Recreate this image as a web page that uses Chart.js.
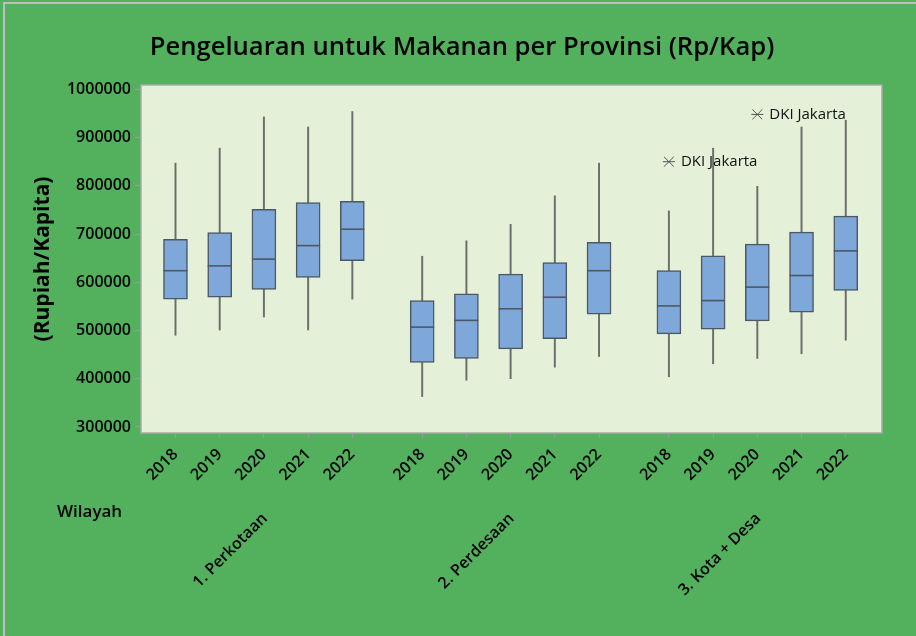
<!DOCTYPE html>
<html>
<head>
<meta charset="utf-8">
<script src="https://cdn.jsdelivr.net/npm/chart.js@4.4.0/dist/chart.umd.min.js"></script>
<style>
  html, body { margin: 0; padding: 0; background: #53b05c; }
  #wrap { width: 916px; height: 636px; }
</style>
</head>
<body>
<div id="wrap"><canvas id="chart" width="916" height="636"></canvas></div>
<script>
// categories
const groups = ['1. Perkotaan', '2. Perdesaan', '3. Kota + Desa'];
const years = ['2018', '2019', '2020', '2021', '2022'];
const chartTitle = 'Pengeluaran untuk Makanan per Provinsi (Rp/Kap)';

// box plot values per group, 2018..2022 (Rp/Kap)
const whiskerLow = [
  490000, 501000, 528000, 501000, 565000,
  363000, 397000, 400000, 424000, 446000,
  404000, 431000, 442000, 452000, 480000
];
const q1 = [
  565000, 569000, 585000, 610000, 645000,
  434000, 442000, 462000, 483000, 534000,
  493000, 503000, 520000, 538000, 583000
];
const median = [
  624000, 634000, 648000, 676000, 710000,
  507000, 521000, 545000, 569000, 624000,
  551000, 562000, 590000, 614000, 665000
];
const q3 = [
  689000, 703000, 751000, 765000, 768000,
  562000, 576000, 617000, 641000, 683000,
  624000, 655000, 679000, 704000, 737000
];
const whiskerHigh = [
  847000, 878000, 943000, 922000, 954000,
  654000, 686000, 720000, 779000, 847000,
  748000, 878000, 799000, 922000, 936000
];

// outliers
const outlierGroup = [2, 2];
const outlierYear = [0, 2];
const outlierValue = [850000, 948000];
const outlierLabel = ['DKI Jakarta', 'DKI Jakarta'];

const yTicks = [300000, 400000, 500000, 600000, 700000, 800000, 900000, 1000000];

// x position of a box: groups are separated by a little extra space
const groupStride = 5.58;
function pos(g, i) { return g * groupStride + i; }

const xPos = [];
groups.forEach((g, gi) => years.forEach((y, yi) => xPos.push(pos(gi, yi))));

const boxData = xPos.map((x, i) => ({ x: x, y: [q1[i], q3[i]] }));
const whiskerData = xPos.map((x, i) => ({ x: x, y: [whiskerLow[i], whiskerHigh[i]] }));
const outlierData = outlierValue.map((v, i) => ({ x: pos(outlierGroup[i], outlierYear[i]), y: v }));

const FONT = "'Open Sans', 'Noto Sans', sans-serif";

const boxPlotExtras = {
  id: 'boxPlotExtras',
  beforeDraw(chart) {
    const { ctx, chartArea: a } = chart;
    ctx.save();
    ctx.fillStyle = '#53b05c';
    ctx.fillRect(0, 0, chart.width, chart.height);
    ctx.strokeStyle = '#bdbdbd';
    ctx.lineWidth = 2;
    ctx.beginPath();
    ctx.moveTo(4, chart.height);
    ctx.lineTo(4, 3);
    ctx.lineTo(chart.width, 3);
    ctx.stroke();
    ctx.fillStyle = '#e5f0d8';
    ctx.fillRect(a.left, a.top, a.width, a.height);
    ctx.strokeStyle = '#a9aca6';
    ctx.lineWidth = 1.5;
    ctx.strokeRect(a.left, a.top, a.width, a.height);
    ctx.restore();
  },
  afterDatasetsDraw(chart) {
    const { ctx } = chart;
    const yScale = chart.scales.y;
    const meta = chart.getDatasetMeta(0);
    ctx.save();
    ctx.strokeStyle = '#4d5864';
    ctx.lineWidth = 1.6;
    meta.data.forEach((bar, i) => {
      const y = yScale.getPixelForValue(median[i]);
      ctx.beginPath();
      ctx.moveTo(bar.x - bar.width / 2, y);
      ctx.lineTo(bar.x + bar.width / 2, y);
      ctx.stroke();
    });
    ctx.restore();
  },
  afterDraw(chart) {
    const { ctx } = chart;
    const xScale = chart.scales.x;
    const yScale = chart.scales.y;
    ctx.save();
    // title
    ctx.fillStyle = '#000';
    ctx.font = '600 25.6px ' + FONT;
    ctx.textAlign = 'center';
    ctx.textBaseline = 'middle';
    ctx.fillText(chartTitle, 462, 48);
    // outlier labels
    ctx.fillStyle = '#111';
    ctx.font = '400 15px ' + FONT;
    ctx.textAlign = 'left';
    outlierData.forEach((p, i) => {
      ctx.fillText(outlierLabel[i], xScale.getPixelForValue(p.x) + 12, yScale.getPixelForValue(p.y));
    });
    // group labels
    ctx.fillStyle = '#000';
    ctx.font = '600 16px ' + FONT;
    ctx.textAlign = 'right';
    groups.forEach((g, gi) => {
      const cx = xScale.getPixelForValue(pos(gi, 2));
      ctx.save();
      ctx.translate(cx + 1, 516);
      ctx.rotate(-Math.PI / 4);
      ctx.fillText(g, 0, 0);
      ctx.restore();
    });
    ctx.textAlign = 'left';
    ctx.font = '600 17px ' + FONT;
    ctx.fillText('Wilayah', 57, 512);
    ctx.restore();
  }
};

new Chart(document.getElementById('chart'), {
  type: 'bar',
  data: {
    datasets: [
      {
        data: boxData,
        backgroundColor: '#7ea7da',
        borderColor: '#4d5864',
        borderWidth: 1.5,
        borderSkipped: false,
        barThickness: 24,
        grouped: false
      },
      {
        data: whiskerData,
        backgroundColor: '#6b6f6b',
        borderWidth: 0,
        barThickness: 1.3,
        grouped: false
      },
      {
        type: 'scatter',
        data: outlierData,
        pointStyle: 'crossRot',
        pointRadius: 7,
        borderColor: '#555',
        borderWidth: 1
      },
      {
        type: 'scatter',
        data: outlierData,
        pointStyle: 'line',
        pointRadius: 6,
        borderColor: '#555',
        borderWidth: 1
      }
    ]
  },
  options: {
    responsive: false,
    animation: false,
    layout: { padding: { left: 0, right: 34, top: 85, bottom: 0 } },
    plugins: {
      legend: { display: false },
      tooltip: { enabled: false },
      title: { display: false }
    },
    scales: {
      x: {
        type: 'linear',
        offset: false,
        min: -0.78,
        max: 15.98,
        afterBuildTicks: s => { s.ticks = xPos.map(v => ({ value: v })); },
        afterFit: s => { s.height = 203; },
        ticks: {
          autoSkip: false,
          minRotation: 45,
          maxRotation: 45,
          padding: 7,
          color: '#000',
          font: { family: FONT, size: 16, weight: '600' },
          callback: (v, i) => years[i % years.length]
        },
        grid: { offset: false, drawOnChartArea: false, tickLength: 5, color: '#9a9a9a' },
        border: { display: false }
      },
      y: {
        min: 287500,
        max: 1009000,
        afterBuildTicks: s => { s.ticks = yTicks.map(v => ({ value: v })); },
        afterFit: s => { s.width = 141; },
        ticks: {
          color: '#000',
          font: { family: FONT, size: 16, weight: '600' },
          padding: 4,
          callback: v => String(v)
        },
        grid: { drawOnChartArea: false, tickLength: 6, color: '#9a9a9a' },
        border: { display: false },
        title: {
          display: true,
          text: '(Rupiah/Kapita)',
          color: '#000',
          font: { family: FONT, size: 21, weight: '700' },
          padding: { top: 30, bottom: 0 }
        }
      }
    }
  },
  plugins: [boxPlotExtras]
});
</script>
</body>
</html>
